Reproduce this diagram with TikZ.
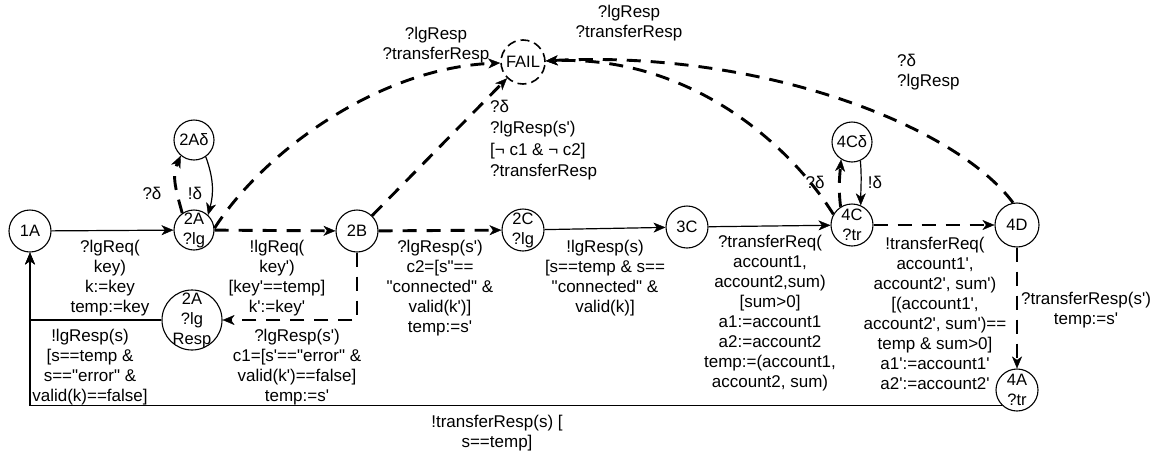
\documentclass[tikz,border=0pt]{standalone}
\usepackage{fontspec}
\setmainfont{Liberation Sans}[Ligatures=TeXOff]
\usetikzlibrary{arrows.meta}

\begin{document}
\begin{tikzpicture}[x=1pt,y=-1pt,
  font=\fontsize{17}{20}\selectfont,
  st/.style={circle, draw, line width=1.1pt, minimum size=#1, inner sep=0pt},
  st/.default=42pt,
  tip/.style={-{Stealth[length=12pt,width=10pt,inset=3.5pt,line width=0.4pt]}},
  sedge/.style={tip, line width=1.2pt},
  dedge/.style={tip, line width=2.9pt, dash pattern=on 14pt off 10pt},
  lbl/.style={align=center, inner sep=0pt},
  lbll/.style={align=left, inner sep=0pt, anchor=west},
  intext/.style={align=center, inner sep=0pt, font=\fontsize{16.5}{20}\selectfont}
]
\useasboundingbox (0,0) rectangle (1164,453);

% states
\node[st, font=\fontsize{16.5}{20}\selectfont] (n1A) at (30,231) {1A};
\node[st=40pt, label={[intext,name=t2A]center:2A\\?lg}] (n2A) at (194,230) {};
\node[st=40pt, font=\fontsize{16.5}{20}\selectfont] (n2Ad) at (194,140) {2Aδ};
\node[st=60pt, label={[intext,name=t2AR]center:2A\\?lg\\Resp}] (n2AR) at (192,320) {};
\node[st=44pt, dash pattern=on 9pt off 5pt, line width=1.6pt, font=\fontsize{16.5}{20}\selectfont] (nF) at (523,62) {FAIL};
\node[st, font=\fontsize{16.5}{20}\selectfont] (n2B) at (357,231) {2B};
\node[st, label={[intext,name=t2C]center:2C\\?lg}] (n2C) at (523,230) {};
\node[st, font=\fontsize{16.5}{20}\selectfont] (n3C) at (687,227) {3C};
\node[st, label={[intext,name=t4C]center:4C\\?tr}] (n4C) at (852,225) {};
\node[st=40pt, font=\fontsize{16.5}{20}\selectfont] (n4Cd) at (852,142) {4Cδ};
\node[st=44pt, font=\fontsize{16.5}{20}\selectfont] (n4D) at (1017,225) {4D};
\node[st, label={[intext,name=t4A]center:4A\\?tr}] (n4A) at (1017,390) {};

% transitions
\draw[sedge] (n1A) -- (n2A);
\draw[dedge] (n2A.125) to[out=105,in=245] (n2Ad.230);
\draw[sedge] (n2Ad.305) to[out=-70,in=75] (n2A.47);
\draw[dedge] (n2A) -- (n2B);
\draw[dedge] (n2A.5) .. controls (265,150) and (380,68) .. (nF);
\draw[dedge] (n2B) -- (nF);
\draw[dedge] (n2B) |- (n2AR);
\draw[sedge] (n2AR) -| (n1A);
\draw[sedge] (n4A.226) -| (n1A);
\draw[dedge] (n2B) -- (n2C);
\draw[sedge] (n2C) -- (n3C);
\draw[sedge] (n3C) -- (n4C);
\draw[dedge] (n4C.122) to[out=97,in=265] (n4Cd.238);
\draw[sedge] (n4Cd.-66) to[out=-85,in=90] (n4C.66);
\draw[dedge] (n4C.150) .. controls (790,145) and (690,55) .. (nF);
\draw[dedge] (n4D.100) .. controls (955,125) and (760,50) .. (nF);
\draw[dedge] (n4C) -- (n4D);
\draw[dedge] (n4D) -- (n4A);

% transition labels
\node[lbl] (e1) at (110,278) {?lgReq(\\key)\\k:=key\\temp:=key};
\node[lbl] (e2) at (277,278) {!lgReq(\\key')\\{}[key'==temp]\\k':=key'};
\node[lbl] (e3) at (90,367) {!lgResp(s)\\{}[s==temp \&\\s=="error" \&\\valid(k)==false]};
\node[lbl] (e4) at (297,367) {?lgResp(s')\\c1=[s'=="error" \&\\valid(k')==false]\\temp:=s'};
\node[lbl] (e5) at (440,288) {?lgResp(s')\\c2=[s"==\\"connected" \&\\valid(k')]\\temp:=s'};
\node[lbl] (e6) at (605,278) {!lgResp(s)\\{}[s==temp \& s==\\"connected" \&\\valid(k)]};
\node[lbl] (e7) at (770,313) {?transferReq(\\account1,\\account2,sum)\\{}[sum>0]\\a1:=account1\\a2:=account2\\temp:=(account1,\\account2, sum)};
\node[lbl] (e8) at (935,313) {!transferReq(\\account1',\\account2', sum')\\{}[(account1',\\account2', sum')==\\temp \& sum>0]\\a1':=account1'\\a2':=account2'};
\node[lbl] (e9) at (1086,310) {?transferResp(s')\\temp:=s'};
\node[lbl] (e10) at (497,433) {!transferResp(s) [\\s==temp]};
\node[lbl] (e11) at (436,45) {?lgResp\\?transferResp};
\node[lbll, font=\fontsize{17}{21.5}\selectfont] (e12) at (490,140) {?δ\\?lgResp(s')\\{}[¬ c1 \& ¬ c2]\\?transferResp};
\node[lbl] (e13) at (629,23) {?lgResp\\?transferResp};
\node[lbll] (e14) at (897,72) {?δ\\?lgResp};
\node[lbl] (e15) at (152,193) {?δ};
\node[lbl] (e16) at (195,193) {!δ};
\node[lbl] (e17) at (815,182) {?δ};
\node[lbl] (e18) at (875,182) {!δ};
\end{tikzpicture}
\end{document}
